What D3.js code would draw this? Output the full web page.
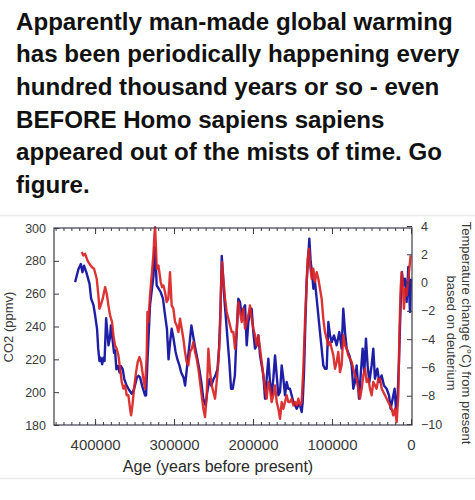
<!DOCTYPE html>
<meta charset="utf-8">
<title>Vostok CO2 and temperature</title>
<style>
body {
  margin: 0;
  background-color: #fff;
  font-family: 'Liberation Sans', Arial, sans-serif;
}
.frame { fill: none; stroke: #3c3c4c; stroke-width: 1.2px; }
.axis path { display: none; }
.axis line { stroke: #3c3c4c; stroke-width: 1px; }
.axis text { fill: #3a3a3a; font-family: 'Liberation Sans', Arial, sans-serif; }
.series { fill: none; stroke-width: 2.4px; stroke-linejoin: round; }
</style>
<body>
<script src="https://d3js.org/d3.v7.min.js"></script>
<script>
// title text
var titleLines = [
  "Apparently man-made global warming",
  "has been periodically happening every",
  "hundred thousand years or so - even",
  "BEFORE Homo sapiens sapiens",
  "appeared out of the mists of time. Go",
  "figure."
];

// ticks
var ageTicks = [400, 300, 200, 100, 0];           // thousand years
var co2Ticks = [180, 200, 220, 240, 260, 280, 300];
var tempTicks = [-10, -8, -6, -4, -2, 0, 2, 4];

// CO2 (blue), age in thousand years before present, ppmv
var co2Ages = [425.3, 421, 418, 416, 414, 411, 407, 405, 402, 400, 397.5, 396, 394.5, 393, 391, 389.5, 388, 386, 384.5, 383,
  381, 380, 378, 376, 374.7, 373, 371, 369, 367.5, 365, 363, 360, 356.5, 353.5, 350.6, 347, 345, 343, 340.5, 336.7,
  335.4, 333.7, 332, 330.4, 328, 326, 324.5, 323, 322, 319.4, 317, 314, 312, 309, 307, 305, 303, 301, 298, 296,
  293, 291, 288, 286, 283, 280.6, 278, 275.6, 273, 270.5, 268, 265.4, 263, 260, 258, 255, 252.8, 250, 247.7, 245,
  243, 241, 239.6, 238, 236, 234, 232, 230, 227.8, 225.7, 223,
  220.7, 218.6, 216.5, 214.3, 212.2, 210.1, 208, 205.9, 203.8, 201.7, 199.6, 197.5, 195.4, 193.3, 191.1, 189, 186.9,
  184.8, 182.7, 180.6, 178.5, 176.4, 174.3, 172.1, 170, 167.9, 165.8, 163.7, 161.6, 159.5, 157.4, 155.3, 153.2, 151.1,
  148.9, 146.8, 144.7, 142.6, 140.5, 138.4, 137.1, 135.4, 133.7, 132.1, 130, 128.7, 127, 125.3, 123.6, 121.5, 119.4,
  117.3, 115.2, 113.1, 111, 108.9,
  106.7, 104.6, 102.5, 100.4, 97.5, 94.1, 90.7, 87.8, 85.7, 83.5, 81.4, 78.1, 75.1, 73, 70.9, 68.8, 65.8, 63.7, 61.2,
  59.1, 57, 54.9, 52.7, 49.8, 47.7, 45.6, 42.6, 40.1, 37.1, 34.2, 30.8, 27.8, 25.7, 23.2, 20.7, 19, 16.9, 15.2, 13.1,
  11.4, 9.7, 7.6, 5.5, 3.4, 1.3, 0];
var co2Values = [267, 275, 278, 273, 277, 273, 266, 257, 253, 247, 238.6, 226.5, 219, 221, 217, 221, 219, 245, 236.6, 228.5,
  233.6, 240.7, 232.6, 224, 225.5, 214, 216, 212, 216, 214, 208, 204, 201, 199, 202, 209, 210, 209, 204, 198,
  198, 218.4, 236.6, 253, 263, 271, 288, 277, 265, 263, 261, 257, 249, 238.6, 220, 230.5, 238.6, 233.6, 224.5, 220.4,
  216, 212, 209, 204, 218, 228.5, 240.7, 233.6, 226.5, 220.4, 214, 206, 196, 192, 200, 208, 204, 208, 210, 214,
  226.5, 253, 283, 271, 255, 243, 230.5, 218.4, 202, 202, 210,
  236.6, 256.9, 254.9, 246.8, 250.8, 252.9, 228.5, 242.7, 248.8, 250.8, 236.6, 226.5, 228.5, 234.6, 222.4, 216.3, 210.2,
  196, 208.2, 220.4, 206.2, 198.1, 208.2, 222.4, 210.2, 198.1, 200.1, 216.3, 208.2, 198.1, 206.2, 202.1, 202.1, 198.1,
  194, 192, 189.9, 192, 192, 187.9, 194, 212.3, 242.7, 267.1, 283.3, 293.5, 279.3, 273.2, 263, 267.1, 256.9,
  246.8, 236.6, 226.5, 216.3, 214.3,
  214.3, 242.7, 234.6, 230.5, 234.6, 228.5, 236.6, 226.5, 250.8, 236.6, 226.5, 222.4, 216.3, 202.1, 206.2, 216.3, 196, 210.2, 226.5,
  212.3, 232.6, 216.3, 206.2, 216.3, 226.5, 208.2, 214.3, 206.2, 210.2, 204.1, 202.1, 198.1, 189.9, 196, 202.1, 189.9, 198.1, 218.4, 253,
  273.2, 265.1, 269.1, 254.9, 276.2, 248.8, 269.1];

// temperature change (red), age in thousand years, degrees C
var tempAges = [416.9, 414.8, 412.7, 409.7, 407.2, 404.2, 401.3, 397.9, 395.8, 394.5, 392.8, 390.3, 387.3, 385.2, 383.1,
  381, 378.5, 376.8, 374.7, 372.6, 370.5, 368.3, 366.2, 364.1, 362, 359.9, 357.8, 355.7, 354.4, 352.7, 350.6, 348.1,
  346, 343.9, 341.8, 338.8, 336.7,
  334.6, 333.7, 332.5, 330.4, 328.3, 326.2, 324.9, 324, 322.8, 321.9, 319.8, 318.6, 316.9, 315.2, 313.5, 311.4, 309.3,
  307.2, 305.1, 303, 300.8, 298.7, 296.6, 294.5, 292.4, 290.3, 288.2, 286.1, 284, 281.9, 279.7, 277.6, 275.5, 273.4,
  271.3, 269.2, 267.1, 265, 262.9, 260.8, 258.6, 256.5, 254.4, 252.3, 250.2, 248.1, 246, 243.9, 241.8, 240.5, 239.2,
  237.6, 235.4, 233.3, 231.2, 229.1, 227, 224.9, 222.8,
  220.7, 218.6, 216.5, 214.3, 212.2, 210.1, 208, 205.9, 203.8, 201.7, 199.6, 197.5, 195.4, 193.3, 191.1, 189, 186.9,
  184.8, 182.7, 180.6, 178.5, 176.4, 174.3, 172.1, 170, 167.9, 165.8, 163.7, 161.6, 159.5, 157.4, 155.3, 153.2, 151.1,
  148.9, 146.8, 144.7, 142.6, 140.5, 138.4, 136.3, 134.2, 132.1, 130.8, 129.1, 127.8, 125.7, 123.6, 121.5, 119.4, 117.3,
  115.2, 113.1, 111, 108.9,
  106.7, 104.6, 102.5, 100.4, 98.3, 96.2, 94.1, 92, 89.9, 87.8, 85.7, 83.5, 81.4, 79.3, 77.2, 75.1, 73, 70.9, 68.8,
  66.7, 64.6, 62.4, 60.3, 58.2, 56.1, 54, 51.9, 49.8, 47.7, 45.6, 43.5, 41.4, 39.2, 37.1, 35, 32.9, 30.8, 28.7, 26.6,
  24.5, 22.4, 20.3, 18.1, 16, 14.8, 13.1, 11.8, 10.5, 8.9, 7.2, 5.5, 3.8, 2.1, 0.4];
var tempValues = [2.16, 1.92, 2.04, 1.57, 1.33, 1.10, 0.98, 0.27, -0.91, -1.85, -1.61, -1.14, -0.32, -0.79, -1.61,
  -2.32, -2.79, -3.73, -4.44, -4.68, -5.15, -6.09, -7.03, -7.5, -7.27, -7.97, -7.97, -8.92, -9.39, -8.68, -7.5, -6.33,
  -5.62, -5.27, -5.62, -6.8, -7.5,
  -5.15, -2.08, -2.79, -0.91, 0.51, 1.92, 3.33, 3.92, 2.39, 0.98, 1.21, 0.74, 0.04, -0.32, -0.2, -0.67, -1.38,
  -1.14, 0.74, -1.61, -1.85, -2.79, -3.03, -3.5, -2.56, -3.26, -3.97, -4.91, -5.62, -5.85, -4.91, -4.68, -4.2, -4.91,
  -5.38, -6.09, -7.03, -7.97, -8.92, -9.51, -7.97, -4.68, -6.33, -7.27, -7.74, -8.21, -7.03, -5.62, -3.5, -0.44, 1.45,
  0.27, -1.14, -2.08, -2.56, -3.03, -3.5, -3.5, -4.68,
  -3.5, -1.38, -2.08, -2.79, -1.85, -3.26, -2.79, -2.32, -1.61, -2.56, -3.26, -3.73, -4.44, -3.73, -4.68, -5.62, -6.56,
  -7.5, -8.21, -7.03, -7.5, -8.45, -7.97, -7.27, -8.45, -8.92, -9.63, -8.45, -8.92, -8.45, -7.97, -8.45, -8.45, -8.21,
  -8.68, -8.45, -8.68, -8.21, -8.68, -8.45, -6.09, -2.79, 0.04, 1.68, 2.39, 1.21, 0.27, 0.98, 0.04, 0.74, 0.27,
  -0.44, -1.14, -2.56, -3.5,
  -3.97, -4.44, -4.2, -4.68, -5.15, -6.09, -5.62, -4.91, -6.33, -5.85, -3.73, -4.44, -4.68, -5.15, -5.38, -5.62, -6.09, -6.56, -6.8,
  -7.5, -8.21, -7.5, -6.56, -6.09, -7.03, -6.8, -7.5, -7.97, -7.03, -7.27, -7.5, -6.8, -6.8, -7.5, -7.74, -7.97, -8.21, -8.45, -8.68,
  -8.92, -9.39, -8.92, -9.86, -7.97, -3.97, -0.44, 0.74, 0.04, -1.85, -0.44, -0.91, 0.04, 0.98, 1.92];

var width = 475,
    height = 500;

var svg = d3.select("body").append("svg")
    .attr("width", width)
    .attr("height", height);

// title, sized so the first line spans the same width as the picture
var title = svg.append("g")
    .attr("font-family", "'Liberation Sans', Arial, sans-serif")
    .attr("font-weight", "bold")
    .attr("fill", "#111");

var probe = title.append("text").attr("font-size", 20).text(titleLines[0]);
var titleSize = 20 * 437 / probe.node().getComputedTextLength();
probe.remove();

title.selectAll("text")
    .data(titleLines)
    .enter().append("text")
    .attr("x", 16)
    .attr("y", function(d, i) { return 29.5 + i * 32.7; })
    .attr("font-size", titleSize)
    .text(function(d) { return d; });

// faint picture borders
svg.append("line").attr("x1", 0).attr("x2", width).attr("y1", 215.5).attr("y2", 215.5)
    .attr("stroke", "#ebebeb").attr("stroke-width", 1.5);
svg.append("line").attr("x1", 0).attr("x2", width).attr("y1", 478.5).attr("y2", 478.5)
    .attr("stroke", "#ebebeb").attr("stroke-width", 1.5);

// plot box
var plotLeft = 54, plotRight = 412, plotTop = 228, plotBottom = 425;

var x = d3.scaleLinear().domain([452, -1.3]).range([plotLeft, plotRight]);
var yCo2 = d3.scaleLinear().domain([180, 300]).range([plotBottom, plotTop]);
var yTemp = d3.scaleLinear().domain([-10, 4]).range([plotBottom - 1, plotTop - 2]);

// series
var lineCo2 = d3.line()
    .x(function(d) { return x(d[0]); })
    .y(function(d) { return yCo2(d[1]); });
var lineTemp = d3.line()
    .x(function(d) { return x(d[0]); })
    .y(function(d) { return yTemp(d[1]); });

var plot = svg.append("g");

plot.append("path")
    .datum(d3.zip(co2Ages, co2Values))
    .attr("class", "series")
    .attr("stroke", "#1f1fa6")
    .attr("d", lineCo2);

plot.append("path")
    .datum(d3.zip(tempAges, tempValues))
    .attr("class", "series")
    .attr("stroke", "#d92323")
    .attr("stroke-opacity", 0.92)
    .attr("d", lineTemp);

// minor ticks every 10000 years, top and bottom
var minorAges = d3.range(450, -1, -10);

svg.append("g").attr("class", "axis")
    .attr("transform", "translate(0," + plotBottom + ")")
    .call(d3.axisBottom(x).tickValues(minorAges).tickSize(-3).tickFormat(""));
svg.append("g").attr("class", "axis")
    .attr("transform", "translate(0," + plotTop + ")")
    .call(d3.axisTop(x).tickValues(minorAges).tickSize(-3).tickFormat(""));

// major x ticks with labels
svg.append("g").attr("class", "axis")
    .attr("transform", "translate(0," + plotBottom + ")")
    .call(d3.axisBottom(x).tickValues(ageTicks).tickSize(-6).tickPadding(14)
        .tickFormat(function(d) { return d * 1000; }))
    .selectAll("text").attr("font-size", 15);
svg.append("g").attr("class", "axis")
    .attr("transform", "translate(0," + plotTop + ")")
    .call(d3.axisTop(x).tickValues(ageTicks).tickSize(-6).tickFormat(""));

// left axis CO2
svg.append("g").attr("class", "axis")
    .attr("transform", "translate(" + plotLeft + ",0)")
    .call(d3.axisLeft(yCo2).tickValues(co2Ticks).tickSize(-5).tickPadding(8))
    .selectAll("text").attr("font-size", 12.5);

// right axis temperature
svg.append("g").attr("class", "axis")
    .attr("transform", "translate(" + plotRight + ",0)")
    .call(d3.axisRight(yTemp).tickValues(tempTicks).tickSize(-5).tickPadding(9))
    .selectAll("text").attr("font-size", 12.5);

svg.append("rect")
    .attr("class", "frame")
    .attr("x", plotLeft).attr("y", plotTop)
    .attr("width", plotRight - plotLeft).attr("height", plotBottom - plotTop);

// axis titles
svg.append("text")
    .attr("x", 218).attr("y", 472)
    .attr("text-anchor", "middle")
    .attr("font-size", 16)
    .attr("fill", "#2a2a2a")
    .text("Age (years before present)");

svg.append("text")
    .attr("transform", "translate(13,327) rotate(-90)")
    .attr("text-anchor", "middle")
    .attr("font-size", 13)
    .attr("fill", "#3a3a3a")
    .text("CO2 (ppmv)");

var rightTitle = svg.append("text")
    .attr("transform", "translate(462,333) rotate(90)")
    .attr("text-anchor", "middle")
    .attr("font-size", 13)
    .attr("fill", "#3a3a3a");
rightTitle.append("tspan").attr("x", 0).attr("y", 0)
    .text("Temperature change (\u00b0C) from present");
rightTitle.append("tspan").attr("x", 0).attr("y", 15)
    .text("based on deuterium");
</script>
</body>
